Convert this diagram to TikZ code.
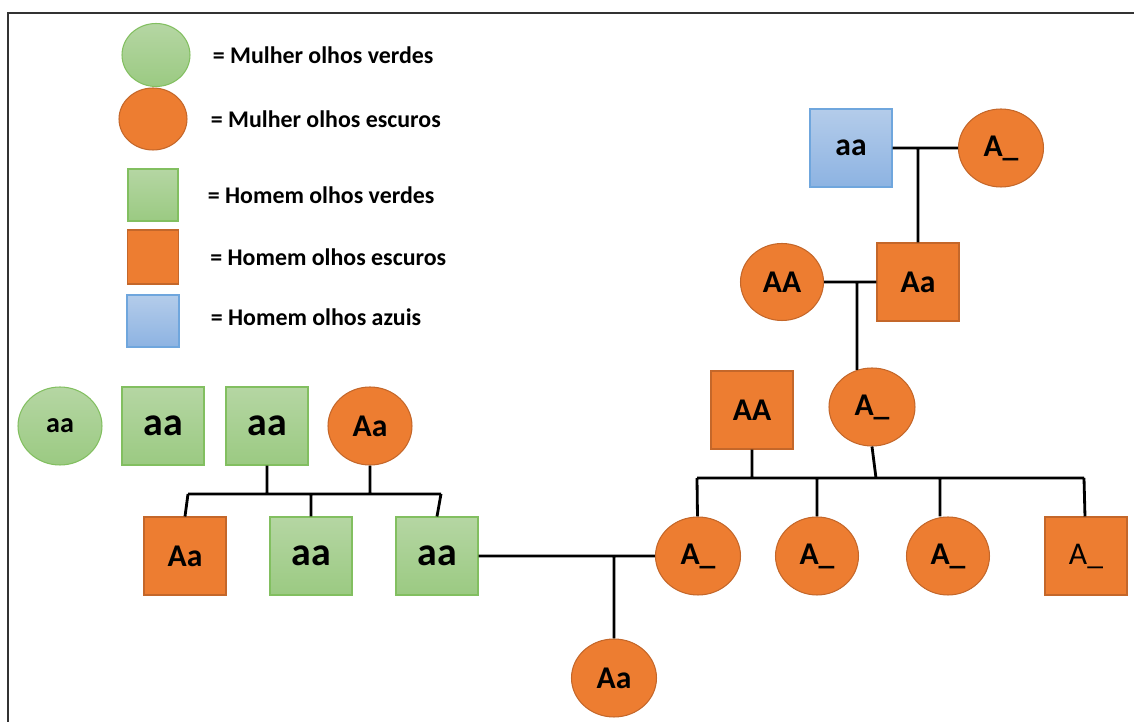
\documentclass[tikz,border=0pt]{standalone}
\usepackage{fontspec}
\setmainfont{Carlito}
\usetikzlibrary{shapes.geometric, positioning}
\definecolor{laranja}{HTML}{ED7D31}
\definecolor{laranjaborda}{HTML}{C4672A}
\definecolor{verdetopo}{HTML}{B5D6A3}
\definecolor{verdebase}{HTML}{9BCA82}
\definecolor{verdeborda}{HTML}{82BF60}
\definecolor{azultopo}{HTML}{B4CCEA}
\definecolor{azulbase}{HTML}{8DB3E2}
\definecolor{azulborda}{HTML}{6FA6DD}
\tikzset{
	every node/.style={inner sep=0pt, font=\bfseries\fontsize{18}{20}\selectfont},
	pessoa/.style={draw, line width=0.6pt, minimum width=1.64cm, minimum height=1.56cm},
	mulher/.style={pessoa, ellipse, minimum width=1.7cm},
	homem/.style={pessoa, rectangle},
	escuro/.style={fill=laranja, draw=laranjaborda},
	verde/.style={top color=verdetopo, bottom color=verdebase, draw=verdeborda},
	azul/.style={top color=azultopo, bottom color=azulbase, draw=azulborda},
	grande/.style={font=\bfseries\fontsize{22.7}{26}\selectfont},
	pequeno/.style={font=\bfseries\fontsize{16}{18}\selectfont},
	legenda/.style={anchor=west, font=\bfseries\fontsize{13.6}{16}\selectfont},
	linha/.style={line width=1.6pt, black}
}
\begin{document}
\begin{tikzpicture}[x=0.02cm, y=-0.02cm]
	\useasboundingbox (0,0) rectangle (1134,722);
	\draw[line width=1.4pt, black!80] (1134,13) -- (8,13) -- (8,722);

%	legenda
	\node[mulher, verde, minimum width=1.36cm, minimum height=1.26cm] (lgMV) at (156,55) {};
	\node[mulher, escuro, minimum width=1.36cm, minimum height=1.24cm] (lgME) at (153,119) {};
	\node[homem, verde, minimum width=1cm, minimum height=1.04cm] (lgHV) at (153,195) {};
	\node[homem, escuro, minimum width=1.02cm, minimum height=1.08cm] (lgHE) at (153,257) {};
	\node[homem, azul, minimum width=1.04cm, minimum height=1.04cm] (lgHA) at (153,321) {};
	\node[legenda, right=0.44cm of lgMV] (txMV) {= Mulher olhos verdes};
	\node[legenda, right=0.46cm of lgME] (txME) {= Mulher olhos escuros};
	\node[legenda, right=0.58cm of lgHV] (txHV) {= Homem olhos verdes};
	\node[legenda, right=0.62cm of lgHE] (txHE) {= Homem olhos escuros};
	\node[legenda, right=0.62cm of lgHA, yshift=2pt] (txHA) {= Homem olhos azuis};

%	familia da esquerda
	\node[mulher, verde, pequeno, minimum width=1.68cm] (mv) at (60,426) {aa};
	\node[homem, verde, grande] (hv) at (163,426) {aa};
	\node[homem, verde, grande] (pai) at (267,426) {aa};
	\node[mulher, escuro, minimum width=1.68cm] (mae) at (370,426) {Aa};
	\node[homem, escuro] (f1) at (185,556) {Aa};
	\node[homem, verde, grande] (f2) at (311,556) {aa};
	\node[homem, verde, grande] (f3) at (437,556) {aa};

%	familia da direita
	\node[homem, azul] (bisavo) at (851,148) {aa};
	\node[mulher, escuro] (bisava) at (1001,148) {A\_};
	\node[mulher, escuro, minimum width=1.66cm, minimum height=1.54cm] (avo) at (782,282) {AA};
	\node[homem, escuro] (avo2) at (918,282) {Aa};
	\node[homem, escuro] (sogro) at (752,410) {AA};
	\node[mulher, escuro, minimum width=1.72cm] (sogra) at (872,407) {A\_};
	\node[mulher, escuro] (esposa) at (698,556) {A\_};
	\node[mulher, escuro, minimum width=1.66cm] (irma1) at (817,556) {A\_};
	\node[mulher, escuro, minimum width=1.66cm] (irma2) at (948,556) {A\_};
	\node[homem, escuro, font=\mdseries\fontsize{18}{20}\selectfont] (irmao) at (1086,556) {A\_};
	\node[mulher, escuro] (neta) at (614,678) {Aa};

	\coordinate (c1) at (918,148);
	\coordinate (c2) at (857,282);
	\coordinate (bS) at (752,478);
	\coordinate (bA) at (876,478);
	\coordinate (b0) at (697,478);
	\coordinate (b1) at (817,478);
	\coordinate (b2) at (940,478);
	\coordinate (b4) at (1084,478);
	\coordinate (e0) at (188,494);
	\coordinate (ep) at (267,494);
	\coordinate (e2) at (311,494);
	\coordinate (em) at (370,494);
	\coordinate (e3) at (441,494);
	\coordinate (cn) at (614,556);

	\draw[linha]
%	casais
	(bisavo) -- (bisava)
	(avo) -- (avo2)
	(f3) -- (esposa)
	(c1) -- (avo2)
	(c2) -- (sogra.112)
	(cn) -- (neta)

%	filhos da direita
	(sogro) -- (bS)
	(sogra.south) -- (bA)
	(b0) -- (b4)
	(b0) -- (esposa)
	(b1) -- (irma1)
	(b2) -- (b2 |- irma2.north)
	(b4) -- (irmao)

%	filhos da esquerda
	(pai) -- (ep)
	(mae) -- (em)
	(e0) -- (e3)
	(e0) -- (f1.north)
	(e2) -- (f2)
	(e3) -- (f3.north)
	;
\end{tikzpicture}
\end{document}
